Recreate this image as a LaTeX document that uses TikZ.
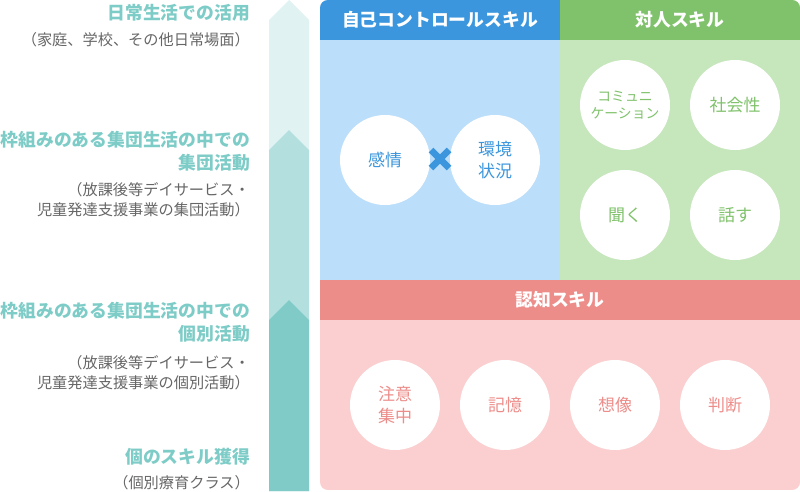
\documentclass[tikz,border=0pt]{standalone}
\usepackage{fontspec}
\setmainfont{Noto Sans CJK JP}
\usetikzlibrary{positioning}
\definecolor{stepA}{HTML}{E0F2F2}
\definecolor{stepB}{HTML}{B3DFDE}
\definecolor{stepC}{HTML}{80CBC7}
\definecolor{tealtxt}{HTML}{7ECCC7}
\definecolor{graytxt}{HTML}{666666}
\definecolor{selfhead}{HTML}{3B96DD}
\definecolor{selfbody}{HTML}{BBDEFA}
\definecolor{pairhead}{HTML}{7FC26B}
\definecolor{pairbody}{HTML}{C6E6BC}
\definecolor{cogdhead}{HTML}{ED8D8A}
\definecolor{cogdbody}{HTML}{FBCFCF}
\tikzset{level/.style={anchor=east,inner sep=0pt,align=right,text=tealtxt,font=\fontsize{17.8}{23}\selectfont\bfseries}}
\tikzset{note/.style={anchor=east,inner sep=0pt,align=right,text=graytxt,font=\fontsize{15.2}{20}\selectfont}}
\tikzset{head/.style={text=white,font=\fontsize{17.8}{20}\selectfont\bfseries}}
\tikzset{skill/.style={circle,fill=white,minimum size=90pt,inner sep=0pt,align=center,font=\fontsize{17}{22}\selectfont}}

\begin{document}
\begin{tikzpicture}[x=1pt,y=-1pt]
    \useasboundingbox (0,0) rectangle (800,491);
    % steps
    \fill[stepA] (289,0) -- (309,20) -- (309,491) -- (269,491) -- (269,20) -- cycle;
    \fill[stepB] (289,130) -- (309,150) -- (309,491) -- (269,491) -- (269,150) -- cycle;
    \fill[stepC] (289,300) -- (309,320) -- (309,491) -- (269,491) -- (269,320) -- cycle;
    \node[level] (L1) at (250,13) {日常生活での活用};
    \node[note] (N1) at (250,40) {（家庭、学校、その他日常場面）};
    \node[level] (L2) at (250,151.5) {枠組みのある集団生活の中での\\集団活動};
    \node[note] (N2) at (250,200) {（放課後等デイサービス・\\児童発達支援事業の集団活動）};
    \node[level] (L3) at (250,322) {枠組みのある集団生活の中での\\個別活動};
    \node[note] (N3) at (250,372.5) {（放課後等デイサービス・\\児童発達支援事業の個別活動）};
    \node[level] (L4) at (250,457) {個のスキル獲得};
    \node[note] (N4) at (250,483) {（個別療育クラス）};
    % panels
    \begin{scope}
        \clip[rounded corners=8pt] (320,0) rectangle (800,490);
        \fill[selfbody] (320,0) rectangle (560,280);
        \fill[pairbody] (560,0) rectangle (800,280);
        \fill[selfhead] (320,0) rectangle (560,40);
        \fill[pairhead] (560,0) rectangle (800,40);
        \fill[cogdbody] (320,280) rectangle (800,490);
        \fill[cogdhead] (320,280) rectangle (800,320);
    \end{scope}
    \node[head] (self) at (440,20) {自己コントロールスキル};
    \node[head] (pair) at (680,20) {対人スキル};
    \node[head] (cogd) at (560,300) {認知スキル};
    \node[skill,text=selfhead] (emo) at (385,160) {感情};
    \node[skill,text=selfhead] (env) at (495,160) {環境\\状況};
    \coordinate (times) at (440,159);
    \draw[selfhead,line width=6.5pt] ([shift={(-9,-9)}]times) -- ([shift={(9,9)}]times);
    \draw[selfhead,line width=6.5pt] ([shift={(-9,9)}]times) -- ([shift={(9,-9)}]times);
    \node[skill,text=pairhead,font=\fontsize{13.8}{17}\selectfont] (comm) at (625,105) {コミュニ\\ケーション};
    \node[skill,text=pairhead] (soc) at (735,105) {社会性};
    \node[skill,text=pairhead] (listen) at (625,215) {聞く};
    \node[skill,text=pairhead] (talk) at (735,215) {話す};
    \node[skill,text=cogdhead] (att) at (395,405) {注意\\集中};
    \node[skill,text=cogdhead] (mem) at (505,405) {記憶};
    \node[skill,text=cogdhead] (img) at (615,405) {想像};
    \node[skill,text=cogdhead] (judge) at (725,405) {判断};
\end{tikzpicture}
\end{document}
